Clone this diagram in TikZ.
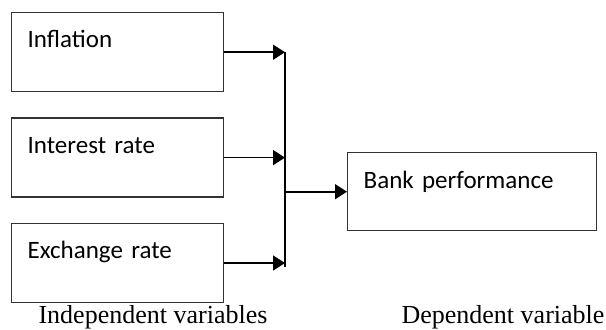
\documentclass[tikz,border=0pt]{standalone}
\usepackage{fontspec}
\setmainfont{Liberation Serif}
\newfontfamily\boxfont{Carlito}
\usepackage{tikz}
\usetikzlibrary{arrows.meta,positioning}
\usetikzlibrary{calc}

\begin{document}
\begin{tikzpicture}[
  node distance=12.5pt,
  box/.style={draw=black!80, line width=0.7pt, inner xsep=8pt, inner ysep=0pt,
    text width=90pt, align=left, text height=17.5pt, text depth=22pt,
    font=\boxfont\fontsize{12.5}{15}\selectfont},
  arr/.style={-{Triangle[length=6pt,width=7.5pt]}, line width=0.8pt},
  caption/.style={font=\fontsize{13}{15}\selectfont}
]
  \useasboundingbox (0,0) rectangle (303pt,-164.5pt);

  \node[box, anchor=north west] (infl) at (5.5pt,-6pt) {Inflation};
  \node[box, below=of infl] (intr) {Interest rate};
  \node[box, below=of intr] (exch) {Exchange rate};
  \node[box, anchor=north west, text width=108.5pt, text height=18pt, text depth=21pt]
    (bank) at (173.5pt,-76pt) {Bank performance};

  \coordinate (bar) at (142.5pt,0);
  \draw[arr] (infl.east) -- (infl.east -| bar);
  \draw[arr] (intr.east) -- (intr.east -| bar);
  \draw[arr] (exch.east) -- (exch.east -| bar);
  \draw[line width=0.8pt] (infl.east -| bar) -- ([yshift=-2pt]exch.east -| bar);
  \draw[arr] (bank.west -| bar) -- (bank.west);

  \node[caption] (indep) at (76.5pt,-158.5pt) {Independent variables};
  \node[caption] (dep) at (251.5pt,-158.5pt) {Dependent variable};
\end{tikzpicture}
\end{document}
